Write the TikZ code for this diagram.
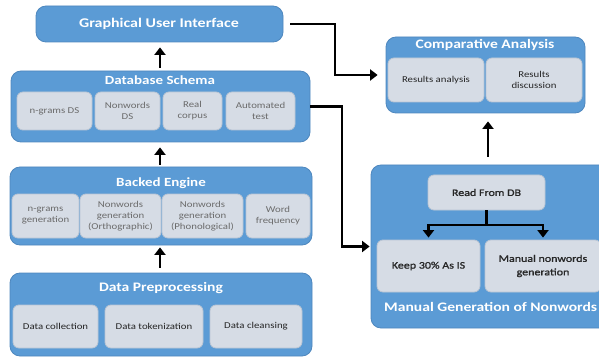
\documentclass[tikz,border=0pt]{standalone}
\usepackage{fontspec}
\setmainfont{Carlito}[FakeStretch=1.2]
\newfontfamily\semibfont{Carlito}[FakeStretch=1.2, FakeBold=1.2]
\usetikzlibrary{arrows.meta,calc}
\definecolor{obl}{HTML}{5B9BD5}
\definecolor{obd}{HTML}{4E87BE}
\definecolor{ibl}{HTML}{D6DCE5}
\definecolor{ibd}{HTML}{B9C5D4}
\definecolor{tgray}{HTML}{6B6B6B}
\definecolor{tdark}{HTML}{262626}
\tikzset{
  outerbox/.style={draw=obd, line width=0.8pt, fill=obl, rounded corners=10pt, inner sep=0pt},
  innerbox/.style={draw=ibd, line width=0.8pt, fill=ibl, rounded corners=6pt, inner sep=1pt, align=center, text=tgray, font=\fontsize{9}{11}\selectfont},
  innerdark/.style={innerbox, text=tdark, font=\fontsize{9}{11}\selectfont},
  innersemi/.style={innerbox, text=tdark, font=\semibfont\fontsize{10}{13.5}\selectfont},
  ttl/.style={text=white, font=\bfseries\fontsize{12.5}{14}\selectfont, inner sep=0pt},
  arr/.style={line width=2.6pt, -{Triangle[length=7.5pt,width=11pt]}},
}
\newcommand{\bx}[7]{\node[#2, minimum width={#5-#3}, minimum height={#6-#4}] (#1) at ({(#3+#5)/2},{(#4+#6)/2}) {#7};}
\begin{document}
\begin{tikzpicture}[x=1pt,y=-1pt]
\useasboundingbox (0,0) rectangle (599,358);
% GUI
\bx{gui}{outerbox}{36}{6}{283}{42}{}
\node[ttl, font=\bfseries\fontsize{13.3}{15}\selectfont] (guit) at (159,24) {Graphical User Interface};
% Database schema
\bx{db}{outerbox}{11}{71}{310}{142}{}
\node[ttl] (dbt) at (160,80.5) {Database Schema};
\bx{db1}{innerbox}{17}{92}{92}{130}{n-grams DS}
\bx{db2}{innerbox}{95}{92}{160}{130}{Nonwords\\DS}
\bx{db3}{innerbox}{163}{92}{222}{130}{Real\\corpus}
\bx{db4}{innerbox}{226}{92}{295}{130}{Automated\\test}
% Backed engine
\bx{be}{outerbox}{10}{167}{312}{245}{}
\node[ttl] (bet) at (161,183) {Backed Engine};
\bx{be1}{innerbox}{12}{194}{79}{238}{n-grams\\generation}
\bx{be2}{innerbox}{80}{194}{161}{238}{Nonwords\\generation\\(Orthographic)}
\bx{be3}{innerbox}{162}{194}{243}{238}{Nonwords\\generation\\(Phonological)}
\bx{be4}{innerbox}{246}{194}{310}{238}{Word\\frequency}
% Data preprocessing
\bx{dp}{outerbox}{10}{273}{312}{356}{}
\node[ttl, font=\bfseries\fontsize{13}{15}\selectfont] (dpt) at (161,288) {Data Preprocessing};
\bx{dp1}{innerdark}{13}{305}{98}{348}{Data collection}
\bx{dp2}{innerdark}{105}{305}{203}{348}{Data tokenization}
\bx{dp3}{innerdark}{210}{305}{302}{348}{Data cleansing}
% Comparative analysis
\bx{ca}{outerbox}{386}{37}{585}{113}{}
\node[ttl, font=\bfseries\fontsize{13}{15}\selectfont] (cat) at (485,44.5) {Comparative Analysis};
\bx{ca1}{innerdark}{388}{58}{484}{102}{Results analysis}
\bx{ca2}{innerdark}{486}{58}{582}{102}{Results\\discussion}
% Manual generation
\bx{mg}{outerbox}{371}{165}{612}{328}{}
\node[ttl, anchor=west, font=\bfseries\fontsize{13}{15}\selectfont] (mgt) at (384,307) {Manual Generation of Nonwords};
\bx{rd}{innersemi}{428}{175}{545}{210}{Read From DB}
\bx{kp}{innersemi}{377}{240}{480}{292}{Keep 30\% As IS}
\bx{mn}{innersemi}{485}{240}{601}{292}{Manual nonwords\\generation}
% connectors
\coordinate (x160) at (160,0);
\coordinate (j1) at (335,0);
\coordinate (j2) at (342,0);
\coordinate (x488) at (488,0);
\coordinate (fk) at (486.5,225);
\draw[arr, shorten <=3pt, shorten >=5pt] (x160 |- db.north) -- (x160 |- gui.south);
\draw[arr, shorten <=2pt, shorten >=5pt] (x160 |- be.north) -- (x160 |- db.south);
\draw[arr, shorten <=5pt, shorten >=2pt] (x160 |- dp.north) -- (x160 |- be.south);
\draw[arr, shorten >=8pt] ([xshift=7pt]gui.east) -| (j1 |- ca.west) -- (ca.west);
\draw[arr, shorten >=1pt] (db.east) -| (j2 |- mg.west) -- (mg.west);
\draw[arr, shorten <=8pt, shorten >=8pt] (x488 |- mg.north) -- (x488 |- ca.south);
\draw[line width=2.6pt] (rd.south -| fk) -- (fk);
\draw[arr, shorten >=2pt] (fk) -| (kp.north);
\draw[arr, shorten >=2pt] (fk) -| (mn.north);
\end{tikzpicture}
\end{document}
